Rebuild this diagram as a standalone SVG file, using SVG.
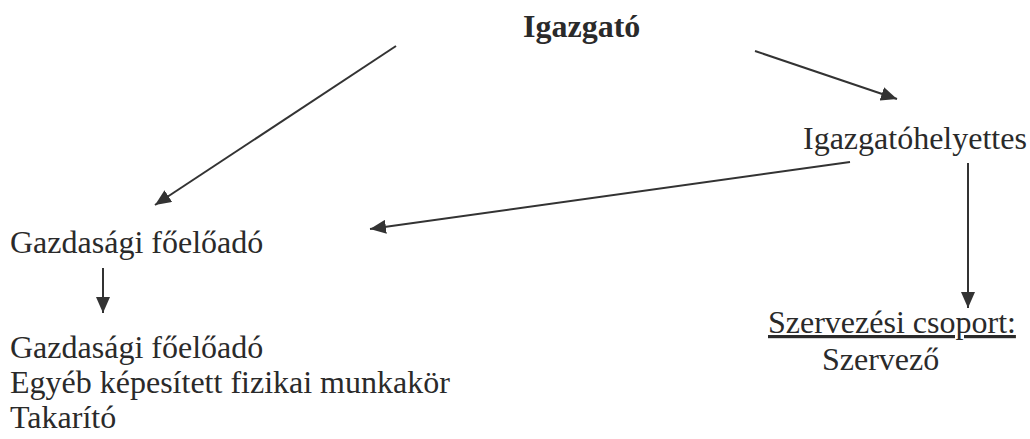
<svg xmlns="http://www.w3.org/2000/svg" width="1030" height="439" viewBox="0 0 1030 439">
<style>
text{font-family:"Liberation Serif","Times New Roman",serif;font-size:32px;fill:#2a2a2a}
.b{font-weight:bold}
.c line{stroke:#333;stroke-width:2}
</style>
<defs>
<marker id="ah" markerUnits="userSpaceOnUse" markerWidth="18" markerHeight="14" refX="16" refY="7" orient="auto">
<path d="M0,0 L16,7 L0,14 Z" fill="#333"/>
</marker>
</defs>
<rect width="1030" height="439" fill="#fff"/>
<g class="c">
<line x1="396" y1="46" x2="155" y2="205" marker-end="url(#ah)"/>
<line x1="755" y1="51" x2="897" y2="99" marker-end="url(#ah)"/>
<line x1="850" y1="162" x2="370" y2="229" marker-end="url(#ah)"/>
<line x1="968" y1="163" x2="968" y2="308" marker-end="url(#ah)"/>
<line x1="103" y1="268" x2="103" y2="313" marker-end="url(#ah)"/>
</g>
<g id="igazgato"><text class="b" x="523" y="37">Igazgató</text></g>
<g id="helyettes"><text x="803" y="149">Igazgatóhelyettes</text></g>
<g id="gazd"><text x="10" y="253">Gazdasági főelőadó</text></g>
<g id="gazd-staff">
<text x="10" y="358">Gazdasági főelőadó</text>
<text x="10" y="393">Egyéb képesített fizikai munkakör</text>
<text x="10" y="428">Takarító</text>
</g>
<g id="szerv">
<text x="768" y="333" text-decoration="underline">Szervezési csoport:</text>
<text x="822" y="370">Szervező</text>
</g>
</svg>
